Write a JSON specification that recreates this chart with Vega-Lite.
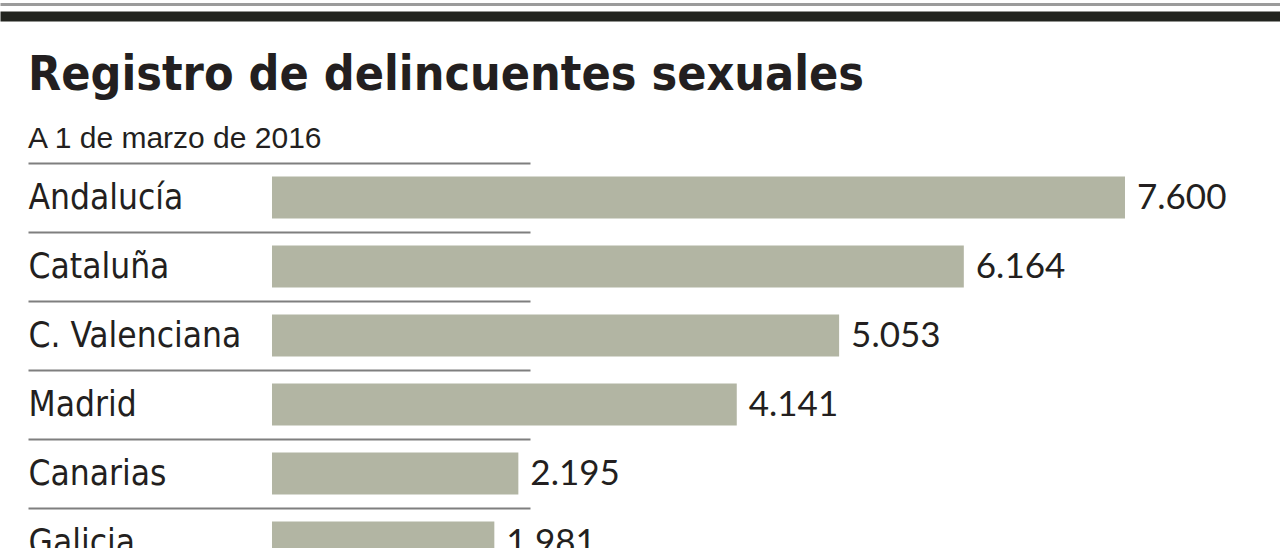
{
  "$schema": "https://vega.github.io/schema/vega-lite/v6.json",
  "width": 1280,
  "height": 385,
  "autosize": {"type": "none"},
  "padding": {"left": 0, "top": 163, "right": 0, "bottom": 0},
  "background": "#ffffff",
  "title": {"text": "Registro de delincuentes sexuales", "subtitle": "A 1 de marzo de 2016"},
  "config": {
    "view": {"stroke": null},
    "locale": {"number": {"decimal": ",", "thousands": ".", "grouping": [3], "currency": ["", " €"]}},
    "title": {
      "anchor": "start",
      "frame": "group",
      "dx": 28,
      "dy": 160,
      "offset": 10,
      "font": "DejaVu Sans Condensed, sans-serif",
      "fontSize": 48,
      "fontWeight": "bold",
      "color": "#231f20",
      "subtitleFont": "Liberation Sans, sans-serif",
      "subtitleFontSize": 30,
      "subtitleColor": "#231f20",
      "subtitlePadding": 24
    }
  },
  "data": {
    "values": [
      {"region": "Andalucía", "value": 7600},
      {"region": "Cataluña", "value": 6164},
      {"region": "C. Valenciana", "value": 5053},
      {"region": "Madrid", "value": 4141},
      {"region": "Canarias", "value": 2195},
      {"region": "Galicia", "value": 1981}
    ]
  },
  "encoding": {
    "y": {
      "field": "region",
      "type": "nominal",
      "sort": null,
      "scale": {"range": [0, 414], "paddingInner": 0, "paddingOuter": 0},
      "axis": {
        "orient": "left",
        "offset": -530,
        "domain": false,
        "ticks": true,
        "tickBand": "extent",
        "tickSize": 502,
        "tickColor": "#7f7f7f",
        "tickWidth": 2,
        "labelAlign": "left",
        "labelPadding": 0,
        "labelBaseline": "middle",
        "labelFont": "DejaVu Sans Condensed, sans-serif",
        "labelFontSize": 35,
        "labelColor": "#231f20",
        "labelLimit": 600,
        "labelOverlap": false,
        "grid": false,
        "title": null
      }
    }
  },
  "layer": [
    {
      "mark": {"type": "bar", "color": "#b2b5a3", "height": {"band": 0.61}},
      "encoding": {
        "x": {
          "field": "value",
          "type": "quantitative",
          "scale": {"domain": [-2423.4, 8981.1], "nice": false, "zero": false},
          "axis": {
            "orient": "top",
            "offset": 147,
            "domain": true,
            "domainColor": "#22241f",
            "domainWidth": 10,
            "ticks": false,
            "labels": false,
            "grid": false,
            "title": null
          }
        }
      }
    },
    {
      "mark": {"type": "text", "align": "left", "baseline": "middle", "dx": 12, "font": "Lato, sans-serif", "fontSize": 35, "color": "#231f20"},
      "encoding": {
        "x": {
          "field": "value",
          "type": "quantitative",
          "axis": {
            "orient": "bottom",
            "offset": -544,
            "domain": true,
            "domainColor": "#9b9b9b",
            "domainWidth": 3,
            "ticks": false,
            "labels": false,
            "grid": false,
            "title": null
          }
        },
        "text": {"field": "value", "type": "quantitative", "format": ",d"}
      }
    }
  ],
  "resolve": {"axis": {"x": "independent"}}
}
